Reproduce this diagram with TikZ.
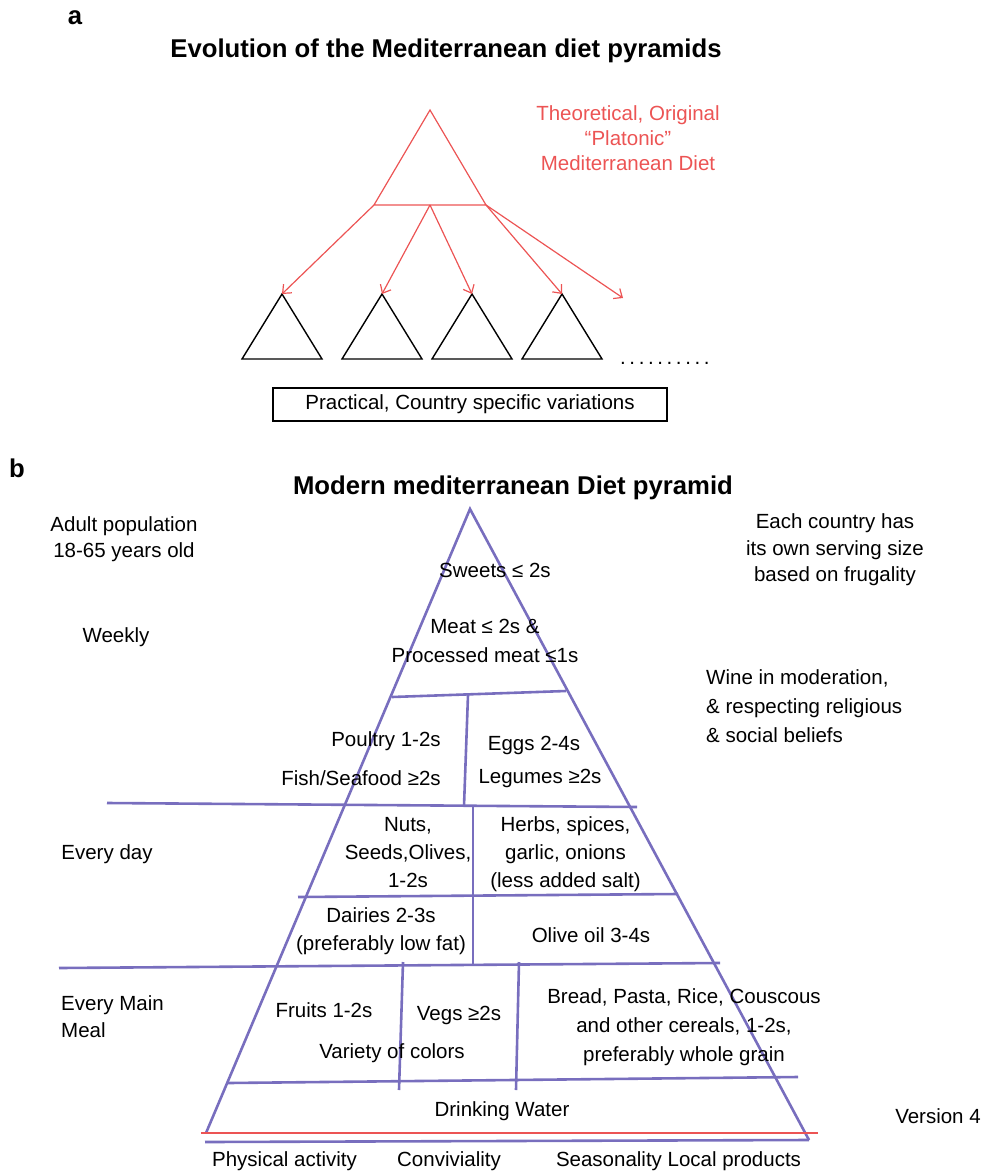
\documentclass[tikz,border=0pt]{standalone}
\usepackage{fontspec}
\setmainfont{Liberation Sans}
\usetikzlibrary{arrows.meta}
\definecolor{evored}{RGB}{236,84,84}
\definecolor{pyrline}{RGB}{120,110,190}
\newcommand{\spaceddots}{.\kern3.6pt.\kern3.6pt.\kern3.6pt.\kern3.6pt.\kern3.6pt.\kern3.6pt.\kern3.6pt.\kern3.6pt.\kern3.6pt.}
\begin{document}
\begin{tikzpicture}[x=1pt,y=-1pt,
  % multi-line nodes are placed by the baseline of their last line
  body/.style={font=\fontsize{20.5}{26}\selectfont, inner sep=0pt, anchor=base, align=center},
  bodyleft/.style={font=\fontsize{20.5}{26}\selectfont, inner sep=0pt, anchor=base west, align=left},
  headline/.style={font=\fontsize{25.7}{30}\selectfont\bfseries, inner sep=0pt, anchor=base},
  redtext/.style={body, text=evored},
  redtri/.style={draw=evored, line width=1.2pt},
  blacktri/.style={draw=black, line width=1.4pt, line join=miter},
  evoarrow/.style={draw=evored, line width=1.2pt, -{Straight Barb[length=7pt,width=12pt]}},
  pyr/.style={draw=pyrline, line width=2.6pt},
  groundline/.style={draw=evored, line width=2.8pt}]
\useasboundingbox (0,0) rectangle (990,1172);

% ---------- panel a ----------
\node[headline] (la) at (75,25) {a};
\node[headline] (ta) at (446,58) {Evolution of the Mediterranean diet pyramids};

% theoretical pyramid
\coordinate (top) at (430,110);
\coordinate (bl) at (374,205);
\coordinate (bm) at (430,205);
\coordinate (br) at (486,205);
\path[redtri] (top) -- (bl) -- (br) -- cycle;
\node[redtext, font=\fontsize{20.5}{25}\selectfont] (theo) at (628,170.5) {Theoretical, Original\\\textquotedblleft Platonic\textquotedblright\\Mediterranean Diet};

% country specific pyramids
\foreach \i/\cx in {1/282,2/382,3/472,4/562}{
  \coordinate (p\i) at (\cx,294);
  \path[blacktri] (p\i) -- ++(-40,65) -- ++(80,0) -- cycle;
}
\coordinate (more) at (623,298);
\node[body, anchor=base west] (dots) at (620,364) {\spaceddots};

\draw[evoarrow] (bl) -- (p1);
\draw[evoarrow] (bm) -- (p2);
\draw[evoarrow] (bm) -- (p3);
\draw[evoarrow] (br) -- (p4);
\draw[evoarrow] (br) -- (more);

\node[draw=black, line width=1.2pt, minimum width=394pt, minimum height=33pt, inner sep=0pt,
      font=\fontsize{20.5}{26}\selectfont] (prac) at (470,404.5) {Practical, Country specific variations};

% ---------- panel b ----------
\node[headline] (lb) at (17,477) {b};
\node[headline] (tb) at (513,494) {Modern mediterranean Diet pyramid};

% pyramid outline
\coordinate (apex) at (470,509);
\coordinate (baseL) at (206,1133);
\coordinate (baseR) at (809,1140);
\path[pyr] (baseL) -- (apex) -- (baseR);

% tiers
\draw[pyr] (392,697) -- (566,691);
\draw[pyr] (468,695) -- (464,806);
\draw[pyr] (107,803) -- (637,807);
\draw[pyr] (473,807) -- (473,964);
\draw[pyr] (298,897) -- (678,894);
\draw[pyr] (59,968) -- (720,963);
\draw[pyr] (403,962) -- (399,1090);
\draw[pyr] (519,962) -- (516,1090);
\draw[pyr] (228,1083) -- (798,1077);

% base lines
\draw[groundline] (201,1133) -- (818,1133);
\draw[pyr] (205,1142) -- (baseR);

% side notes
\node[body, font=\fontsize{20.5}{26.5}\selectfont] (adult) at (124,557.5) {Adult population\\18-65 years old};
\node[body] (weekly) at (116,642.5) {Weekly};
\node[body] (everyday) at (107,859.5) {Every day};
\node[bodyleft, font=\fontsize{20.5}{27}\selectfont] (mainmeal) at (61,1037.5) {Every Main\\Meal};
\node[body, font=\fontsize{20.5}{26.5}\selectfont] (serving) at (835,581.5) {Each country has\\its own serving size\\based on frugality};
\node[bodyleft, font=\fontsize{20.5}{29}\selectfont] (wine) at (706,742.5) {Wine in moderation,\\\& respecting religious\\\& social beliefs};
\node[body] (version) at (938,1123.5) {Version 4};

% pyramid contents
\node[body] (sweets) at (495,577.5) {Sweets ≤ 2s};
\node[body, font=\fontsize{20.5}{29}\selectfont] (meat) at (485,662.5) {Meat ≤ 2s \&\\Processed meat ≤1s};
\node[body] (poultry) at (386,746.5) {Poultry 1-2s};
\node[body] (fish) at (361,785) {Fish/Seafood ≥2s};
\node[body] (eggs) at (534,750) {Eggs 2-4s};
\node[body] (legumes) at (540,783.5) {Legumes ≥2s};
\node[body, font=\fontsize{20.5}{28}\selectfont] (nuts) at (408,887.5) {Nuts,\\Seeds,Olives,\\1-2s};
\node[body, font=\fontsize{20.5}{28}\selectfont] (herbs) at (565.5,887.5) {Herbs, spices,\\garlic, onions\\(less added salt)};
\node[body, font=\fontsize{20.5}{28}\selectfont] (dairy) at (381,950) {Dairies 2-3s\\(preferably low fat)};
\node[body] (olive) at (591,942.5) {Olive oil 3-4s};
\node[body] (fruits) at (324,1017.5) {Fruits 1-2s};
\node[body] (vegs) at (459,1020) {Vegs ≥2s};
\node[body] (variety) at (392,1058) {Variety of colors};
\node[body, font=\fontsize{20.5}{29}\selectfont] (bread) at (684,1061.5) {Bread, Pasta, Rice, Couscous\\and other cereals, 1-2s,\\preferably whole grain};
\node[body] (water) at (502,1116.5) {Drinking Water};

% lifestyle row
\node[body] (phys) at (284.5,1166) {Physical activity};
\node[body] (conv) at (449,1166) {Conviviality};
\node[body] (season) at (678.5,1166) {Seasonality Local products};
\end{tikzpicture}
\end{document}
